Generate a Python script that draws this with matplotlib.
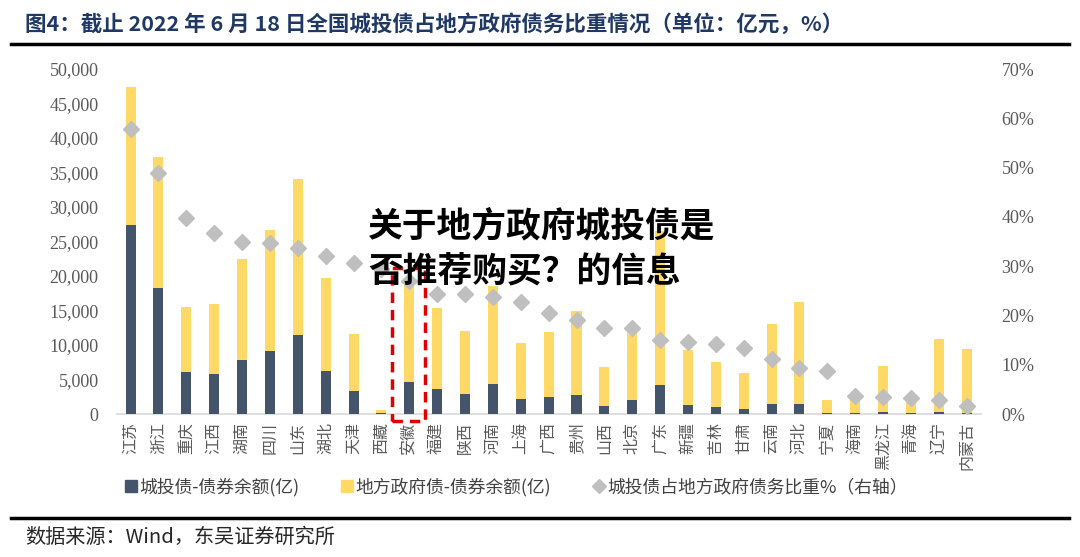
import numpy as np
import matplotlib
matplotlib.use("Agg")
import matplotlib.pyplot as plt
from matplotlib.lines import Line2D
from matplotlib.patches import Rectangle

plt.rcParams['font.family'] = ['Noto Sans CJK SC', 'DejaVu Sans']

# data (亿元, %)
provinces = ['江苏', '浙江', '重庆', '江西', '湖南', '四川', '山东', '湖北', '天津', '西藏',
             '安徽', '福建', '陕西', '河南', '上海', '广西', '贵州', '山西', '北京', '广东',
             '新疆', '吉林', '甘肃', '云南', '河北', '宁夏', '海南', '黑龙江', '青海', '辽宁', '内蒙古']
chengtou = [27400, 18200, 6100, 5800, 7800, 9200, 11400, 6300, 3400, 190,
            4700, 3600, 2900, 4300, 2200, 2400, 2700, 1200, 2000, 4200,
            1300, 1000, 750, 1450, 1500, 170, 100, 240, 80, 300, 160]
difang = [47400, 37300, 15500, 15900, 22500, 26600, 34100, 19700, 11600, 650,
          19300, 15300, 12000, 18500, 10300, 11900, 14900, 6800, 12000, 26500,
          9300, 7500, 5900, 13000, 16300, 2000, 2700, 7000, 2500, 10800, 9400]
ratio = [57.8, 48.8, 39.8, 36.7, 35.0, 34.6, 33.6, 32.1, 30.6, 29.5,
         27.0, 24.3, 24.3, 23.7, 22.7, 20.4, 19.1, 17.5, 17.5, 15.0,
         14.7, 14.3, 13.3, 11.2, 9.4, 8.7, 3.7, 3.5, 3.2, 2.8, 1.7]

left_ticks = [0, 5000, 10000, 15000, 20000, 25000, 30000, 35000, 40000, 45000, 50000]
right_ticks = [0, 10, 20, 30, 40, 50, 60, 70]

dark = '#44546A'
yellow = '#FFD966'
grey = '#BFBFBF'
txt = '#595959'

fig = plt.figure(figsize=(10.8, 5.57), dpi=100)
ax = fig.add_axes([0.108, 0.2567, 0.8, 0.6194])
ax2 = ax.twinx()

x = np.arange(len(provinces))
ax.bar(x, difang, width=0.36, color=yellow, zorder=2)
ax.bar(x, chengtou, width=0.36, color=dark, zorder=3)
ax2.plot(x, ratio, linestyle='none', marker='D', markersize=8, color=grey, zorder=4)

ax.set_xlim(-0.5, len(provinces) - 0.5)
ax.set_ylim(0, 50000)
ax2.set_ylim(0, 70)
ax.set_yticks(left_ticks)
ax.set_yticklabels([f'{v:,}' for v in left_ticks], family='Liberation Serif', fontsize=13, color=txt)
ax2.set_yticks(right_ticks)
ax2.set_yticklabels([f'{v}%' for v in right_ticks], family='Liberation Serif', fontsize=13, color=txt)
ax.set_xticks(x)
ax.set_xticklabels(provinces, rotation=90, fontsize=11.5, color=txt)
ax.tick_params(axis='x', length=0, pad=6)
ax.tick_params(axis='y', length=0, pad=13)
ax2.tick_params(axis='y', length=0, pad=15)

for a in (ax, ax2):
    for s in ['top', 'left', 'right']:
        a.spines[s].set_visible(False)
ax2.spines['bottom'].set_visible(False)
ax.spines['bottom'].set_color('#D9D9D9')
ax.spines['bottom'].set_linewidth(1.2)

# legend
handles = [Line2D([], [], linestyle='none', marker='s', markersize=8, color=dark),
           Line2D([], [], linestyle='none', marker='s', markersize=8, color=yellow),
           Line2D([], [], linestyle='none', marker='D', markersize=7, color=grey)]
labels = ['城投债-债券余额(亿)', '地方政府债-债券余额(亿)', '城投债占地方政府债务比重%（右轴）']
fig.legend(handles, labels, loc='center', bbox_to_anchor=(0.478, 0.126), ncol=3, frameon=False,
           fontsize=12.8, handlelength=0.7, handletextpad=0.15, columnspacing=2.3,
           labelcolor='#404040')

# title and rules
fig.text(0.023, 0.958, '图4：截止 2022 年 6 月 18 日全国城投债占地方政府债务比重情况（单位：亿元，%）',
         fontsize=15.5, fontweight='bold', color='#1F3864', va='center', ha='left')
fig.add_artist(Line2D([0.01, 0.99], [0.921, 0.921], color='black', linewidth=2.5))
fig.add_artist(Line2D([0.01, 0.99], [0.07, 0.07], color='black', linewidth=2.5))
fig.text(0.023, 0.036, '数据来源：Wind，东吴证券研究所', fontsize=14.5, color='#262626',
         va='center', ha='left')

# red dashed box around 安徽
fig.add_artist(Rectangle((392 / 1080, 1 - 421 / 557), 33 / 1080, 153 / 557, fill=False,
                         edgecolor='#E00000', linestyle=(0, (3, 2)), linewidth=2.5, zorder=10))

# overlay text
fig.text(368 / 1080, 1 - 226 / 557, '关于地方政府城投债是', fontsize=25, fontweight='heavy',
         color='black', va='center', ha='left', zorder=11)
fig.text(368 / 1080, 1 - 272 / 557, '否推荐购买？的信息', fontsize=25, fontweight='heavy',
         color='black', va='center', ha='left', zorder=11)

fig.savefig('out.png', dpi=100)
